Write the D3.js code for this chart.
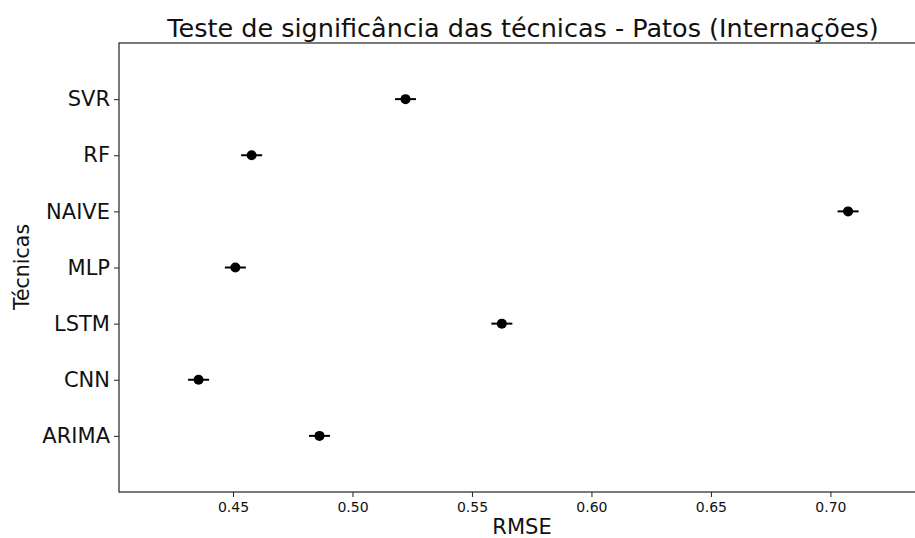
<!DOCTYPE html>
<html>
<head>
<meta charset="utf-8">
<script src="https://cdn.jsdelivr.net/npm/d3@7"></script>
<style>
  body { margin: 0; background: #fff; }
  text { font-family: "DejaVu Sans", sans-serif; }
</style>
</head>
<body>
<div id="chart"></div>
<script>
// tecnicas e valores de RMSE (media e meia-largura do intervalo)
var tecnicas = ["ARIMA", "CNN", "LSTM", "MLP", "NAIVE", "RF", "SVR"];
var rmse = [0.4862, 0.4356, 0.5625, 0.4510, 0.7074, 0.4578, 0.5222];
var erro = [0.0044, 0.0044, 0.0044, 0.0044, 0.0044, 0.0044, 0.0044];
var xTicks = [0.45, 0.50, 0.55, 0.60, 0.65, 0.70];

var width = 915, height = 538;
var mLeft = 119, mRight = 916, mTop = 43, mBottom = 492;

var svg = d3.select("#chart").append("svg")
    .attr("width", width)
    .attr("height", height);

var x = d3.scaleLinear().domain([0.4023, 0.7354]).range([mLeft, mRight - 1]);
var y = d3.scaleLinear().domain([-1, tecnicas.length]).range([mBottom, mTop]);

// moldura
svg.append("rect")
    .attr("x", mLeft).attr("y", mTop)
    .attr("width", mRight - mLeft).attr("height", mBottom - mTop)
    .attr("fill", "none").attr("stroke", "#222").attr("stroke-width", 1.2);

// eixo x
var gx = svg.append("g")
    .attr("transform", "translate(0," + mBottom + ")")
    .call(d3.axisBottom(x).tickValues(xTicks).tickFormat(d3.format(".2f")).tickSize(5).tickPadding(5));
gx.select(".domain").remove();
gx.selectAll("line").attr("stroke", "#222");
gx.selectAll("text").attr("font-size", 14).attr("fill", "#111");

// eixo y
var gy = svg.append("g")
    .attr("transform", "translate(" + mLeft + ",0)")
    .call(d3.axisLeft(y).tickValues(d3.range(tecnicas.length))
        .tickFormat(function (d) { return tecnicas[d]; }).tickSize(5).tickPadding(4));
gy.select(".domain").remove();
gy.selectAll("line").attr("stroke", "#222");
gy.selectAll("text").attr("font-size", 21).attr("fill", "#111");

// barras de erro
svg.selectAll(".err")
    .data(tecnicas)
    .enter()
    .append("line")
    .attr("x1", function (d, i) { return x(rmse[i] - erro[i]); })
    .attr("x2", function (d, i) { return x(rmse[i] + erro[i]); })
    .attr("y1", function (d, i) { return y(i); })
    .attr("y2", function (d, i) { return y(i); })
    .attr("stroke", "#000")
    .attr("stroke-width", 2);

// pontos
svg.selectAll(".pt")
    .data(tecnicas)
    .enter()
    .append("circle")
    .attr("cx", function (d, i) { return x(rmse[i]); })
    .attr("cy", function (d, i) { return y(i); })
    .attr("r", 5)
    .attr("fill", "#000");

// titulo e rotulos
svg.append("text")
    .attr("x", 523).attr("y", 37)
    .attr("text-anchor", "middle")
    .attr("font-size", 25.5)
    .attr("fill", "#111")
    .text("Teste de significância das técnicas - Patos (Internações)");

svg.append("text")
    .attr("x", 522).attr("y", 534)
    .attr("text-anchor", "middle")
    .attr("font-size", 21)
    .attr("fill", "#111")
    .text("RMSE");

svg.append("text")
    .attr("transform", "translate(29,267) rotate(-90)")
    .attr("text-anchor", "middle")
    .attr("font-size", 20.5)
    .attr("fill", "#111")
    .text("Técnicas");
</script>
</body>
</html>
